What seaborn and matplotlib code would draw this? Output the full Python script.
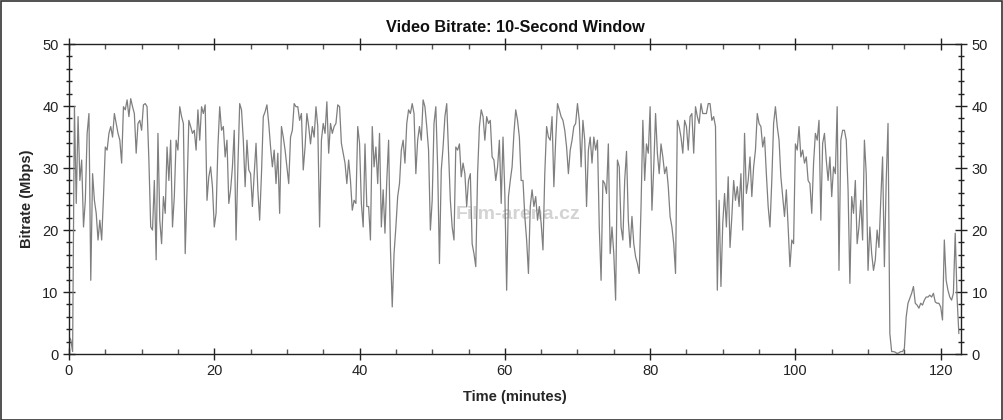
import numpy as np
import pandas as pd
import matplotlib
matplotlib.use("Agg")
import matplotlib.pyplot as plt
from matplotlib.patches import Rectangle
from matplotlib.ticker import MultipleLocator
import seaborn as sns

STEP = 0.25
seg_start = [0.0, 20.75, 41.25, 62.25, 83.0, 103.5]

seg_a = [2.8, 2.3, 0.4, 39.9, 24.3, 38.3, 28, 31.3, 20.5, 24.8, 35.6, 38.8, 11.9, 29.1, 24.8, 22.7,
         18.4, 21.6, 18.4, 25.4, 33.4, 32.9, 35.6, 36.7, 35, 38.8, 37.2, 35.6, 34.5, 30.8, 39.9, 39.4,
         41, 38.3, 41.2, 39.9, 38.8, 32.4, 37.2, 37.7, 36.1, 40.2, 40.4, 39.9, 31.3, 20.5, 20, 28,
         15.2, 35.6, 21.6, 17.8, 25.4, 22.7, 33.4, 28, 34.5, 20.5, 25.4, 34.5, 32.9, 39.9, 38.3, 37.2,
         16.2, 26.5, 37.7, 36.7, 35.6, 36.1, 32.9, 39.4, 34.5, 39.9, 38.8, 40.2, 24.8, 28.6, 30.2, 27,
         20.5, 22.7, 33.4]

seg_b = [39.9, 36.1, 36.7, 31.8, 34.5, 24.3, 26.5, 30.2, 36.1, 18.4, 30.2, 40.4, 39.4, 34.5, 27, 34.5,
         29.7, 29.1, 23.8, 29.1, 34, 26.5, 21.6, 29.1, 38.3, 39.1, 40.2, 37.2, 33.4, 30.2, 32.9, 27.5,
         32.4, 22.7, 36.7, 35, 32.9, 30.2, 27.5, 35, 36.1, 40.4, 39.9, 39.9, 37.7, 38.8, 29.7, 33.4,
         38.8, 36.7, 33.9, 36.7, 35, 39.9, 36.7, 20.5, 34.5, 37.2, 35.6, 40.7, 32.4, 37.2, 35.6, 36.7,
         37.2, 40.2, 39.9, 34, 32.4, 30.8, 27.5, 31.3, 28, 23.2, 24.8, 24.3, 36.7, 34, 24.3, 20.5,
         33.9, 23.8]

seg_c = [23.8, 18.4, 36.7, 30.2, 33.4, 27.5, 35.6, 20.5, 26.5, 19.5, 28, 34.5, 17.2, 7.6, 16.2, 20.5,
         25.4, 27.5, 32.9, 34.5, 30.8, 37.2, 39.4, 38.8, 40.4, 38.8, 29.1, 34.5, 36.7, 34.5, 41, 39.9,
         36.7, 32.9, 20, 24.8, 37.2, 39.9, 30.2, 14.6, 29.7, 33.4, 38.3, 40.4, 32.4, 24.8, 20.5, 18.4,
         33.4, 32.9, 33.9, 28.6, 30.8, 29.1, 23.8, 28, 29.1, 17.8, 16.2, 14.1, 29.1, 36.7, 39.4, 38.3,
         34.5, 38.3, 37.2, 37.7, 31.8, 31.3, 28, 30.2, 34.5, 24.3, 35, 25.9, 10.3, 25.4, 28, 30.2,
         35.6, 39.4, 37.7, 35]

seg_d = [28, 28, 22.2, 18.4, 13, 23.8, 26.5, 23.8, 25.4, 21.6, 23.8, 21.1, 16.8, 29.1, 36.7, 35,
         34.5, 38.3, 27, 34.5, 40.4, 39.4, 38.3, 37.7, 36.1, 33.4, 29.1, 32.9, 34.5, 36.7, 37.2, 40.4,
         37.7, 30.2, 37.7, 34.5, 23.8, 32.9, 35, 30.8, 35, 32.9, 34.5, 20.5, 11.9, 28, 27.5, 25.9,
         33.9, 16.2, 20.5, 16.2, 8.7, 31.3, 30.2, 20.5, 18.4, 28, 32.7, 21.6, 17.2, 22.2, 17.8, 15.7,
         14.6, 13, 23.8, 37.7, 28, 33.9, 32.4, 39.9, 23.2, 30.2, 38.8, 32.4, 29.1, 33.9, 31.8, 29.1,
         30.2, 27, 22.2]

seg_e = [20.5, 17.8, 13, 37.7, 36.7, 35, 32.4, 37.7, 36.7, 32.9, 38.3, 38.8, 32.4, 39.9, 38.3, 37.2,
         40.4, 38.8, 38.8, 38.8, 40.4, 40.4, 37.7, 38.3, 36.7, 10.3, 24.8, 10.9, 21.1, 25.9, 20.5, 28.6,
         17.2, 22.2, 28, 24.8, 27, 23.8, 29.1, 20, 35.6, 25.9, 28, 31.8, 25.4, 30.2, 32.9, 38.8,
         37.2, 36.7, 33.4, 35, 29.1, 23.8, 20.5, 28, 37.2, 39.9, 36.7, 34.5, 28.6, 25.4, 22.2, 26.5,
         20.5, 14.1, 18.4, 17.8, 33.9, 32.9, 36.7, 31.8, 32.9, 30.8, 31.8, 28, 27.5, 22.7, 30.8, 35.6,
         34.5, 37.7]

seg_f = [21.6, 34, 35.6, 31.3, 28, 31.8, 25.4, 30.2, 29.1, 39.9, 13.5, 34.5, 36.1, 36.1, 34.5, 26.5,
         11.4, 25.4, 22.7, 28, 17.8, 20.5, 24.8, 18.4, 34.5, 29.1, 13.5, 20.5, 16.2, 13.5, 15.2, 20,
         17.2, 24.8, 31.8, 14.1, 28, 37.2, 3.3, 0.4, 0.4, 0.3, 0.1, 0.2, 0.4, 0.4, 0.9, 6,
         8.2, 9, 9.8, 10.9, 8.2, 7.9, 7.4, 8.2, 7.9, 8.7, 9.2, 9.2, 9.5, 9.2, 9.8, 8.4,
         8.2, 8.2, 7.6, 5.5, 18.4, 11.9, 10.3, 9.2, 8.7, 9.8, 19.5, 9.2, 3.3]

segments = [seg_a, seg_b, seg_c, seg_d, seg_e, seg_f]

x_ticks = [0, 20, 40, 60, 80, 100, 120]
y_ticks = [0, 10, 20, 30, 40, 50]

# ── Build long table ──
frames = []
for start, vals in zip(seg_start, segments):
    frames.append(pd.DataFrame({
        "minute": start + STEP * np.arange(len(vals)),
        "bitrate": vals,
    }))
df = pd.concat(frames, ignore_index=True)

# ── Style ──
sns.set_style("white")
plt.rcParams["font.family"] = ["Liberation Sans", "DejaVu Sans"]

fig = plt.figure(figsize=(10.04, 4.2), dpi=100)
ax = fig.add_axes([0.0687, 0.157, 0.8885, 0.738])

sns.lineplot(data=df, x="minute", y="bitrate", ax=ax, color="#7f7f7f",
             linewidth=0.9, estimator=None, sort=False)

ax.set_xlim(0, 122.8)
ax.set_ylim(0, 50)
ax.set_xticks(x_ticks)
ax.set_yticks(y_ticks)
ax.xaxis.set_minor_locator(MultipleLocator(5))
ax.yaxis.set_minor_locator(MultipleLocator(2))

# y ticks cross the spine, x ticks mostly point inward
ax.tick_params(axis="y", which="major", direction="inout", length=8, width=1,
               labelsize=10.5, colors="#222222", left=True, right=True, labelright=True)
ax.tick_params(axis="y", which="minor", direction="inout", length=5, width=1,
               colors="#222222", left=True, right=True)
ax.tick_params(axis="x", which="major", direction="inout", length=8, width=1,
               labelsize=10.5, colors="#222222", top=True, bottom=True, labeltop=False)
ax.tick_params(axis="x", which="minor", direction="in", length=3.5, width=1,
               colors="#555555", top=True, bottom=True)

for side in ax.spines.values():
    side.set_color("#222222")
    side.set_linewidth(1)

ax.set_title("Video Bitrate: 10-Second Window", fontsize=11.7, fontweight="bold",
             color="#111111", pad=9)
ax.set_xlabel("Time (minutes)", fontsize=10.5, fontweight="bold", labelpad=8)
ax.set_ylabel("Bitrate (Mbps)", fontsize=10.5, fontweight="bold", labelpad=6)

# faint watermark
ax.text(0.434, 0.45, "Film-arena.cz", transform=ax.transAxes, fontsize=14,
        fontweight="bold", color="#c8c8c8", alpha=0.8, ha="left", va="center", zorder=0)

# outer frame
fig.patches.append(Rectangle((0.0005, 0.001), 0.998, 0.997, transform=fig.transFigure,
                             fill=False, edgecolor="#333333", linewidth=1.2))

fig.savefig("out.png", dpi=100)
